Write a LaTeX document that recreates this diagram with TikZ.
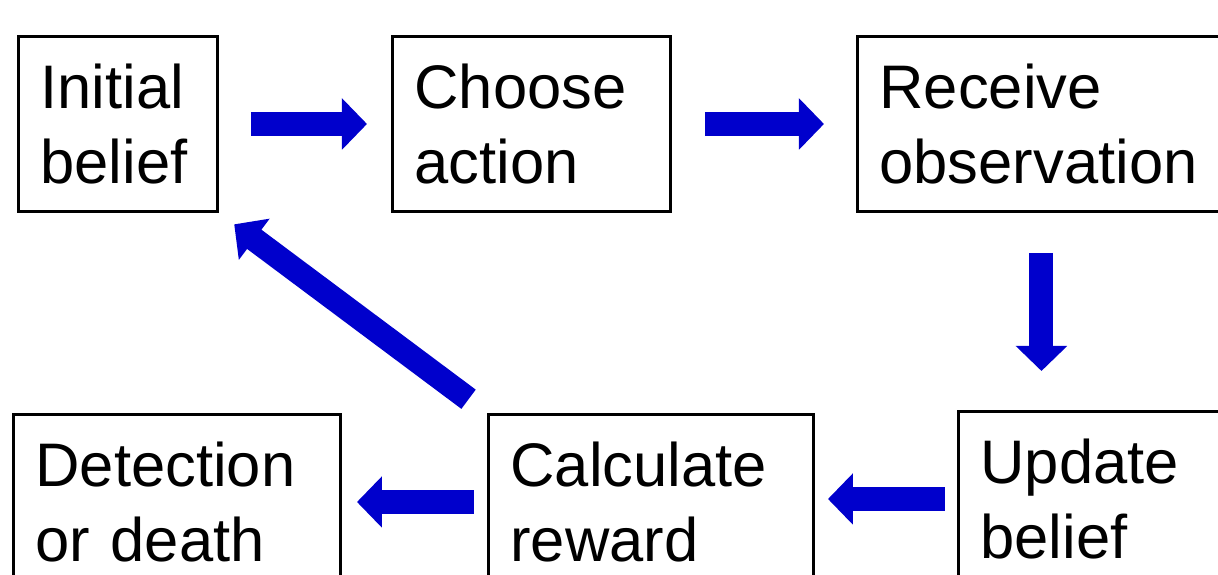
\documentclass[tikz,border=0pt]{standalone}
\usepackage{fontspec}
\setmainfont{Liberation Sans}
\usetikzlibrary{positioning, arrows.meta}
\definecolor{flowBlue}{HTML}{0000CC}
\tikzset{
    styleBox/.style={draw, line width=1.7pt, align=left, inner xsep=0.44cm, minimum height=3.5cm, font=\fontsize{35}{42.7}\selectfont}, % one box for each step
    styleFlow/.style={flowBlue, line width=0.48cm, -{Triangle[length=0.5cm, width=1.0cm]}}, % thick block arrows
}
\begin{document}
\begin{tikzpicture}
    \useasboundingbox (0,0) rectangle (24.36,-11.5);
    \clip (0,0) rectangle (24.36,-11.5);
    \node[styleBox, text width=3.10cm, anchor=north west] (init) at (0.34,-0.70) {Initial\\belief};
    \node[styleBox, text width=4.68cm, right=3.44cm of init] (choose) {Choose\\action};
    \node[styleBox, text width=6.48cm, right=3.68cm of choose] (receive) {Receive\\observation};
    \node[styleBox, text width=5.66cm, anchor=north west] (detect) at (0.24,-8.26) {Detection\\or death};
    \node[styleBox, text width=5.62cm, right=2.90cm of detect] (calc) {Calculate\\reward};
    \node[styleBox, text width=5.12cm, right=2.84cm of calc, yshift=0.06cm] (update) {Update\\belief};
    \draw[styleFlow, shorten <=0.64cm, shorten >=0.48cm] (init) -- (choose);
    \draw[styleFlow, shorten <=0.66cm, shorten >=0.64cm] (choose) -- (receive);
    \draw[styleFlow, shorten <=0.8cm, shorten >=0.78cm] (receive.south) -- (receive.south |- update.north);
    \draw[styleFlow, shorten <=0.24cm, shorten >=0.26cm] (update.west) -- (update.west -| calc.east);
    \draw[styleFlow, shorten <=0.26cm, shorten >=0.30cm] (calc) -- (detect);
    \draw[styleFlow, shorten <=0.46cm, shorten >=0.38cm] (calc.north west) -- (init.south east);
\end{tikzpicture}
\end{document}
